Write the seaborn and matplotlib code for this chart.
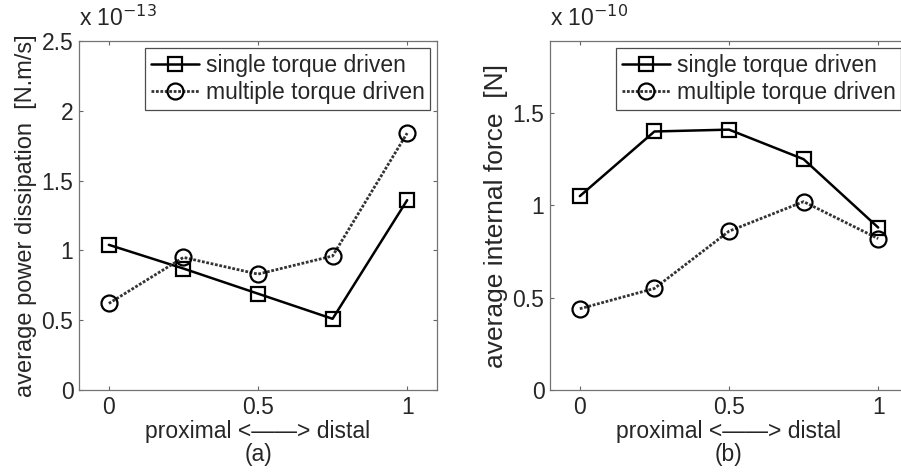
import numpy as np
import pandas as pd
import matplotlib
matplotlib.use('Agg')
import matplotlib.pyplot as plt
import seaborn as sns

# positions along the body
position = [0, 0.25, 0.5, 0.75, 1.0]

# (a) average power dissipation, in units of 1e-13 N.m/s
power_single = [1.04, 0.87, 0.69, 0.51, 1.36]
power_multiple = [0.62, 0.95, 0.83, 0.96, 1.84]

# (b) average internal force, in units of 1e-10 N
force_single = [1.05, 1.40, 1.41, 1.25, 0.88]
force_multiple = [0.44, 0.55, 0.86, 1.02, 0.82]

sns.set_style('ticks')
plt.rcParams['font.family'] = ['Liberation Sans', 'DejaVu Sans']
FS = 16.5

fig = plt.figure(figsize=(9.01, 4.76), dpi=100)
ax1 = fig.add_axes([79/901, 86/476, 358/901, 349/476])
ax2 = fig.add_axes([550/901, 86/476, 358/901, 349/476])


def draw(ax, single, multiple, ymax, yticks, ylabel, ylsize, exp, tag):
    sns.lineplot(x=position, y=single, ax=ax, color='black', lw=1.8,
                 marker='s', markersize=9.5, markerfacecolor='none',
                 markeredgecolor='black', markeredgewidth=1.6,
                 label='single torque driven')
    sns.lineplot(x=position, y=multiple, ax=ax, color='0.2', lw=2.0,
                 linestyle=(0, (1, 0.6)), marker='o', markersize=11.5,
                 markerfacecolor='none', markeredgecolor='black',
                 markeredgewidth=1.6, label='multiple torque driven')
    ax.set_xlim(-0.1, 1.1)
    ax.set_ylim(0, ymax)
    ax.set_xticks([0, 0.5, 1])
    ax.set_xticklabels(['0', '0.5', '1'])
    ax.set_yticks(yticks)
    ax.set_yticklabels([('%g' % t) for t in yticks])
    ax.tick_params(direction='in', length=3, width=0.8, color='0.4',
                   top=True, right=True, labelsize=FS, pad=4)
    for s in ax.spines.values():
        s.set_visible(True)
        s.set_color('0.45')
        s.set_linewidth(0.9)
    ax.set_xlabel('proximal <\u2014\u2014> distal\n(' + tag + ')',
                  fontsize=FS, labelpad=1, linespacing=1.0)
    ax.set_ylabel(ylabel, fontsize=ylsize, labelpad=3)
    ax.text(0.0, 1.03, 'x 10$^{' + exp + '}$', transform=ax.transAxes,
            fontsize=FS, ha='left', va='bottom')
    leg = ax.legend(loc='upper right', fontsize=FS, frameon=True,
                    fancybox=False, edgecolor='0.3', framealpha=1,
                    borderpad=0.25, labelspacing=0.2, handlelength=2.1,
                    handletextpad=0.3, borderaxespad=0.3)
    leg.get_frame().set_linewidth(0.9)


draw(ax1, power_single, power_multiple, 2.5, [0, 0.5, 1, 1.5, 2, 2.5],
     'average power dissipation  [N.m/s]', 17, '-13', 'a')
draw(ax2, force_single, force_multiple, 1.89, [0, 0.5, 1, 1.5],
     'average internal force  [N]', 19, '-10', 'b')

fig.savefig('out.png', dpi=100)
